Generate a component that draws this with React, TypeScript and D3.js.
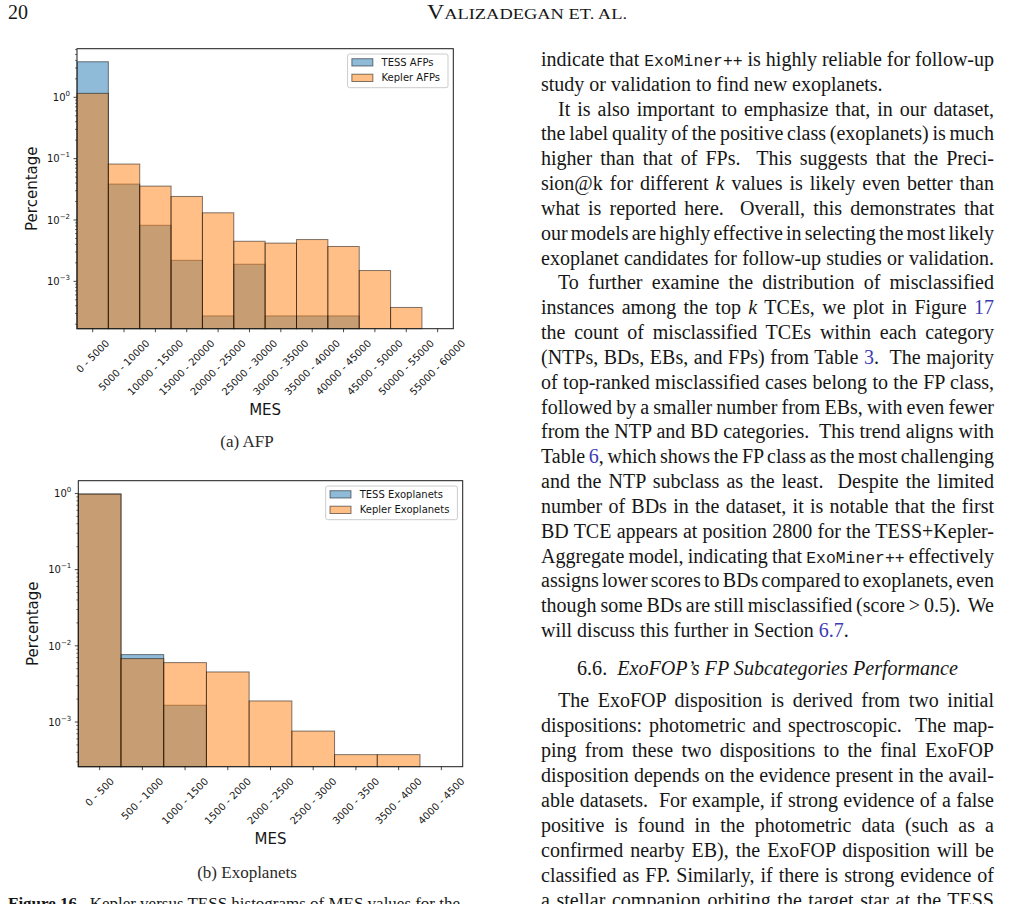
import React, { useEffect, useRef } from 'react';
import * as d3 from 'd3';

// ---- chart data ----
const afpBins = [
  "0 - 5000", "5000 - 10000", "10000 - 15000", "15000 - 20000", "20000 - 25000", "25000 - 30000",
  "30000 - 35000", "35000 - 40000", "40000 - 45000", "45000 - 50000", "50000 - 55000", "55000 - 60000",
];
const afpTess = [3.8, 0.0385, 0.0082, 0.0022, 0.000273, 0.0019, 0.000273, 0.000273, 0.000273, 0, 0, 0];
const afpKepler = [1.16, 0.0817, 0.0357, 0.0242, 0.0131, 0.0045, 0.0042, 0.0048, 0.0037, 0.0015, 0.000375, 0];
const afpYDomain: [number, number] = [1.69e-4, 6.2];
const afpLegend = ["TESS AFPs", "Kepler AFPs"];

const exoBins = [
  "0 - 500", "500 - 1000", "1000 - 1500", "1500 - 2000", "2000 - 2500",
  "2500 - 3000", "3000 - 3500", "3500 - 4000", "4000 - 4500",
];
const exoTess = [0.985, 0.00767, 0.00166, 0, 0, 0, 0, 0, 0];
const exoKepler = [0.98, 0.00679, 0.00602, 0.00454, 0.00189, 0.00076, 0.000373, 0.000373, 0];
const exoYDomain: [number, number] = [2.59e-4, 1.47];
const exoLegend = ["TESS Exoplanets", "Kepler Exoplanets"];

const yTickExps = [0, -1, -2, -3];

// ---- page text ----
// `..` typewriter, *..* italic, [..] link colour, {..} bold
const bodyTop: [string, string][] = [
  ["indicate that `ExoMiner++` is highly reliable for follow-up", "j"],
  ["study or validation to find new exoplanets.", "l"],
  ["It is also important to emphasize that, in our dataset,", "ij"],
  ["the label quality of the positive class (exoplanets) is much", "j"],
  ["higher than that of FPs.  This suggests that the Preci-", "j"],
  ["sion@k for different *k* values is likely even better than", "j"],
  ["what is reported here.  Overall, this demonstrates that", "j"],
  ["our models are highly effective in selecting the most likely", "j"],
  ["exoplanet candidates for follow-up studies or validation.", "j"],
  ["To further examine the distribution of misclassified", "ij"],
  ["instances among the top *k* TCEs, we plot in Figure [17]", "j"],
  ["the count of misclassified TCEs within each category", "j"],
  ["(NTPs, BDs, EBs, and FPs) from Table [3].  The majority", "j"],
  ["of top-ranked misclassified cases belong to the FP class,", "j"],
  ["followed by a smaller number from EBs, with even fewer", "j"],
  ["from the NTP and BD categories.  This trend aligns with", "j"],
  ["Table [6], which shows the FP class as the most challenging", "j"],
  ["and the NTP subclass as the least.  Despite the limited", "j"],
  ["number of BDs in the dataset, it is notable that the first", "j"],
  ["BD TCE appears at position 2800 for the TESS+Kepler-", "j"],
  ["Aggregate model, indicating that `ExoMiner++` effectively", "j"],
  ["assigns lower scores to BDs compared to exoplanets, even", "j"],
  ["though some BDs are still misclassified (score > 0.5).  We", "j"],
  ["will discuss this further in Section [6.7].", "l"],
];
const bodyBottom: [string, string][] = [
  ["The ExoFOP disposition is derived from two initial", "ij"],
  ["dispositions: photometric and spectroscopic.  The map-", "j"],
  ["ping from these two dispositions to the final ExoFOP", "j"],
  ["disposition depends on the evidence present in the avail-", "j"],
  ["able datasets.  For example, if strong evidence of a false", "j"],
  ["positive is found in the photometric data (such as a", "j"],
  ["confirmed nearby EB), the ExoFOP disposition will be", "j"],
  ["classified as FP. Similarly, if there is strong evidence of", "j"],
  ["a stellar companion orbiting the target star at the TESS", "j"],
];

const BLUE = "#1f77b4";
const ORANGE = "#ff7f0e";
const INK = "#161616";
const LINK = "#3c3cb4";
const SANS = "'DejaVu Sans', sans-serif";
const SERIF = "'Liberation Serif', 'Times New Roman', serif";
const MONO = "'Liberation Mono', 'DejaVu Sans Mono', monospace";

interface HistSpec {
  bins: string[];
  tess: number[];
  kepler: number[];
  yDomain: [number, number];
  legend: string[];
  frame: { left: number; right: number; top: number; bottom: number };
  caption: string;
  captionY: number;
}

function drawHist(svg: d3.Selection<SVGSVGElement, unknown, null, undefined>, spec: HistSpec) {
  const { left, right, top, bottom } = spec.frame;
  const g = svg.append("g");

  const x = d3.scaleBand<string>().domain(spec.bins).range([left, right]).paddingInner(0).paddingOuter(0);
  const y = d3.scaleLog().domain(spec.yDomain).range([bottom, top]);

  // bars: TESS first, Kepler on top
  const series: [number[], string][] = [[spec.tess, BLUE], [spec.kepler, ORANGE]];
  series.forEach(([vals, color]) => {
    g.append("g")
      .selectAll("rect")
      .data(spec.bins.map((b, i) => ({ b, v: vals[i] })).filter(d => d.v > 0))
      .join("rect")
      .attr("x", d => x(d.b)!)
      .attr("width", x.bandwidth())
      .attr("y", d => y(Math.min(d.v, spec.yDomain[1])))
      .attr("height", d => bottom - y(Math.min(d.v, spec.yDomain[1])))
      .attr("fill", color)
      .attr("fill-opacity", 0.5)
      .attr("stroke", "#000")
      .attr("stroke-opacity", 0.5)
      .attr("stroke-width", 1);
  });

  // frame
  g.append("rect")
    .attr("x", left).attr("y", top)
    .attr("width", right - left).attr("height", bottom - top)
    .attr("fill", "none").attr("stroke", "#1a1a1a").attr("stroke-width", 1);

  // y minor ticks
  const lo = Math.floor(Math.log10(spec.yDomain[0]));
  const hi = Math.ceil(Math.log10(spec.yDomain[1]));
  for (let k = lo; k <= hi; k++) {
    for (let m = 2; m <= 9; m++) {
      const v = m * Math.pow(10, k);
      if (v < spec.yDomain[0] || v > spec.yDomain[1]) continue;
      g.append("line")
        .attr("x1", left - 2).attr("x2", left)
        .attr("y1", y(v)).attr("y2", y(v))
        .attr("stroke", "#1a1a1a").attr("stroke-width", 0.6);
    }
  }

  // y major ticks + labels
  yTickExps.forEach(e => {
    const v = Math.pow(10, e);
    if (v < spec.yDomain[0] || v > spec.yDomain[1]) return;
    const yy = y(v);
    g.append("line")
      .attr("x1", left - 3.5).attr("x2", left)
      .attr("y1", yy).attr("y2", yy)
      .attr("stroke", "#1a1a1a").attr("stroke-width", 0.8);
    const t = g.append("text")
      .attr("x", left - 7).attr("y", yy + 3.7)
      .attr("text-anchor", "end")
      .style("font-family", SANS).style("font-size", "10px").attr("fill", INK);
    t.append("tspan").text("10");
    t.append("tspan").attr("dy", -5).style("font-size", "7px").text(e < 0 ? `\u2212${-e}` : `${e}`);
  });

  // x ticks + rotated labels
  let maxH = 0;
  const labelTop = bottom + 9.3;
  spec.bins.forEach(b => {
    const cx = x(b)! + x.bandwidth() / 2;
    g.append("line")
      .attr("x1", cx).attr("x2", cx)
      .attr("y1", bottom).attr("y2", bottom + 3.5)
      .attr("stroke", "#1a1a1a").attr("stroke-width", 0.8);
    const t = g.append("text")
      .style("font-family", SANS).style("font-size", "10px").attr("fill", INK)
      .attr("text-anchor", "middle")
      .attr("dominant-baseline", "central")
      .text(b);
    const w = (t.node() as SVGTextElement).getComputedTextLength();
    const h = (w + 10) * Math.SQRT1_2;
    maxH = Math.max(maxH, h);
    t.attr("transform", `translate(${cx},${labelTop + h / 2}) rotate(-45)`);
  });

  // axis labels
  g.append("text")
    .attr("x", (left + right) / 2).attr("y", labelTop + maxH + 17.5)
    .attr("text-anchor", "middle")
    .style("font-family", SANS).style("font-size", "15px").attr("fill", INK)
    .text("MES");
  g.append("text")
    .attr("transform", `translate(${left - 45},${(top + bottom) / 2}) rotate(-90)`)
    .attr("text-anchor", "middle").attr("dominant-baseline", "central")
    .style("font-family", SANS).style("font-size", "15px").attr("fill", INK)
    .text("Percentage");

  // legend
  const lg = g.append("g");
  const widths = spec.legend.map(s => {
    const t = lg.append("text").style("font-family", SANS).style("font-size", "10px").text(s);
    const w = (t.node() as SVGTextElement).getComputedTextLength();
    t.remove();
    return w;
  });
  const boxW = d3.max(widths)! + 42;
  const boxR = right - 5.3;
  const boxT = top + 5.3;
  const boxL = boxR - boxW;
  lg.append("rect")
    .attr("x", boxL).attr("y", boxT).attr("width", boxW).attr("height", 33.7)
    .attr("rx", 2).attr("fill", "#fff").attr("fill-opacity", 0.8)
    .attr("stroke", "#cccccc").attr("stroke-width", 1);
  [BLUE, ORANGE].forEach((c, i) => {
    const cy = boxT + 8.3 + i * 15.5;
    lg.append("rect")
      .attr("x", boxL + 4.3).attr("y", cy - 3.6).attr("width", 21).attr("height", 7.3)
      .attr("fill", c).attr("fill-opacity", 0.5)
      .attr("stroke", "#000").attr("stroke-opacity", 0.5).attr("stroke-width", 1);
    lg.append("text")
      .attr("x", boxL + 34).attr("y", cy + 3.6)
      .style("font-family", SANS).style("font-size", "10px").attr("fill", INK)
      .text(spec.legend[i]);
  });

  // sub-caption
  g.append("text")
    .attr("x", 247).attr("y", spec.captionY)
    .attr("text-anchor", "middle")
    .style("font-family", SERIF).style("font-size", "17px").attr("fill", "#2a2a2a")
    .text(spec.caption);
}

function parseSegs(s: string) {
  return s.split(/(`[^`]+`|\*[^*]+\*|\[[^\]]+\]|\{[^}]+\})/).filter(Boolean).map(p => {
    if (p.startsWith("`")) return { t: p.slice(1, -1), k: "tt" };
    if (p.startsWith("*")) return { t: p.slice(1, -1), k: "it" };
    if (p.startsWith("[")) return { t: p.slice(1, -1), k: "ln" };
    if (p.startsWith("{")) return { t: p.slice(1, -1), k: "bf" };
    return { t: p, k: "rm" };
  });
}

function addLine(
  parent: d3.Selection<any, unknown, null, undefined>,
  s: string, x: number, y: number, target: number | null, size = 20,
) {
  const t = parent.append("text")
    .attr("x", x).attr("y", y)
    .style("font-family", SERIF).style("font-size", `${size}px`)
    .style("white-space", "pre").attr("fill", INK);
  const segs = parseSegs(s);
  segs.forEach(seg => {
    const ts = t.append("tspan").text(seg.t);
    if (seg.k === "tt") ts.style("font-family", MONO).style("font-size", `${size * 0.82}px`);
    if (seg.k === "it") ts.style("font-style", "italic");
    if (seg.k === "ln") ts.attr("fill", LINK);
    if (seg.k === "bf") ts.style("font-weight", "bold");
  });
  if (target) {
    const nat = (t.node() as SVGTextElement).getComputedTextLength();
    const plain = segs.map(d => d.t).join("");
    const n = (plain.match(/ /g) || []).length;
    if (n > 0) t.style("word-spacing", `${(target - nat) / n}px`);
  }
  return t;
}

function drawText(svg: d3.Selection<SVGSVGElement, unknown, null, undefined>) {
  const g = svg.append("g");
  const colL = 541;
  const colW = 453;
  const indent = 17;

  // running header
  g.append("text").attr("x", 8).attr("y", 19)
    .style("font-family", SERIF).style("font-size", "20px").attr("fill", INK).text("20");
  const hd = g.append("text").attr("x", 427).attr("y", 19)
    .attr("textLength", 200).attr("lengthAdjust", "spacingAndGlyphs")
    .style("font-family", SERIF).style("font-size", "20px").attr("fill", INK);
  hd.append("tspan").text("V");
  hd.append("tspan").style("font-size", "15.5px").text("ALIZADEGAN ET.  AL.");

  const place = (lines: [string, string][], y0: number, step: number) => {
    lines.forEach(([s, mode], i) => {
      const ind = mode.startsWith("i") ? indent : 0;
      const just = mode.endsWith("j");
      addLine(g, s, colL + ind, y0 + i * step, just ? colW - ind : null);
    });
  };
  place(bodyTop, 66, 24.83);

  // section heading
  const h = g.append("text").attr("x", 577).attr("y", 675)
    .attr("textLength", 381).attr("lengthAdjust", "spacingAndGlyphs")
    .style("font-family", SERIF).style("font-size", "20px").style("white-space", "pre").attr("fill", INK);
  h.append("tspan").text("6.6.  ");
  h.append("tspan").style("font-style", "italic").text("ExoFOP\u2019s FP Subcategories Performance");

  place(bodyBottom, 707, 25);

  // figure caption (cut by the page edge)
  addLine(g, "{Figure 16.}  Kepler versus TESS histograms of MES values for the", 8, 909, 452, 17);
}

const afpSpec: HistSpec = {
  bins: afpBins, tess: afpTess, kepler: afpKepler, yDomain: afpYDomain, legend: afpLegend,
  frame: { left: 77, right: 453.3, top: 48.7, bottom: 328.7 },
  caption: "(a)  AFP", captionY: 447,
};
const exoSpec: HistSpec = {
  bins: exoBins, tess: exoTess, kepler: exoKepler, yDomain: exoYDomain, legend: exoLegend,
  frame: { left: 78.3, right: 462.7, top: 480.7, bottom: 766.7 },
  caption: "(b)  Exoplanets", captionY: 878,
};

export default function App() {
  const svgRef = useRef<SVGSVGElement>(null);

  useEffect(() => {
    if (!svgRef.current) return;
    const svg = d3.select(svgRef.current);
    svg.selectAll("*").remove();
    svg.append("rect").attr("width", 1036).attr("height", 904).attr("fill", "#fff");
    drawHist(svg, afpSpec);
    drawHist(svg, exoSpec);
    drawText(svg);
  }, []);

  return (
    <svg
      ref={svgRef}
      width={1036}
      height={904}
      viewBox="0 0 1036 904"
      style={{ position: "absolute", left: 0, top: 0, display: "block" }}
    />
  );
}
